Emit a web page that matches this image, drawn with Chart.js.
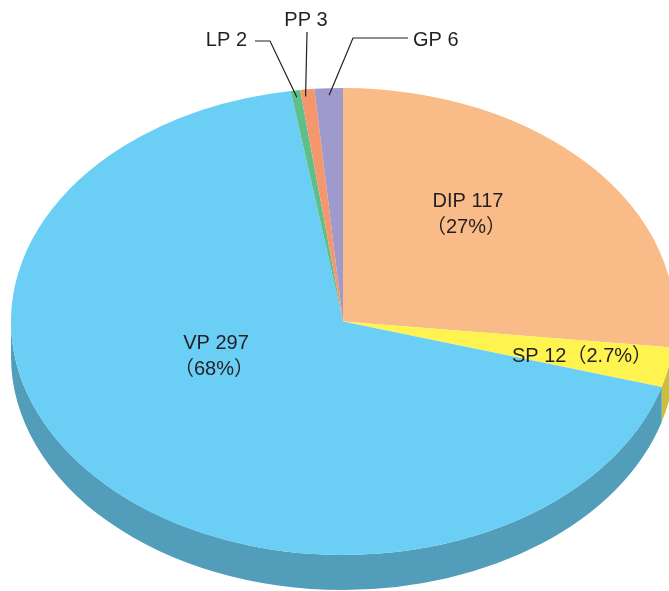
<!DOCTYPE html>
<html>
<head>
<meta charset="utf-8">
<script src="https://cdn.jsdelivr.net/npm/chart.js@4.4.1/dist/chart.umd.min.js"></script>
<style>
  html, body { margin: 0; padding: 0; background: #fff; overflow: hidden; }
  #pie { display: block; }
</style>
</head>
<body>
<canvas id="pie" width="669" height="591"></canvas>
<script>
// data, clockwise from 12 o'clock
const categories = ['DIP', 'SP', 'VP', 'LP', 'PP', 'GP'];
const counts = [117, 12, 297, 2, 3, 6];
const percentLabels = ['27%', '2.7%', '68%', '', '', ''];

const topColors = ['#F9BC88', '#FFF44F', '#6ACEF5', '#5FBF8A', '#F6966C', '#9E9BCC'];
const sideColors = ['#C99870', '#C9BF3C', '#519DBA', '#4C996E', '#C47756', '#7E7BA3'];

// ellipse geometry of the tilted pie (pixels)
const CX = 343, CY = 321.5, RX = 332, RY = 233.5, DEPTH = 35;
const TEXT = '#231F20';
const FONT = '20px "Liberation Sans", "Noto Sans CJK JP", Arial, sans-serif';

// annotation layout
const labelLayout = [
  { type: 'inside', x: 468, y: 207 },                       // DIP
  { type: 'inline', x: 512, y: 362 },                       // SP
  { type: 'inside', x: 216, y: 349 },                       // VP
  { type: 'leader', x: 247, y: 46, align: 'right', frac: 0.5, path: [[255, 41], [270, 41]] },  // LP
  { type: 'leader', x: 306, y: 26, align: 'center', frac: 0.3, path: [[307, 32]] },           // PP
  { type: 'leader', x: 413, y: 46, align: 'left', frac: 0.5, path: [[408, 38], [353, 38]] }    // GP
];

function toScreen(chart, angle, rf) {
  const r = chart.getDatasetMeta(0).data[0].outerRadius;
  return [CX + RX * rf * Math.cos(angle), CY + RY * rf * Math.sin(angle)];
}

const pie3d = {
  id: 'pie3d',
  beforeDatasetsDraw(chart) {
    const meta = chart.getDatasetMeta(0);
    const first = meta.data[0];
    const r = first.outerRadius;
    const ctx = chart.ctx;
    ctx.save();
    ctx.translate(CX, CY);
    ctx.scale(RX / r, RY / r);
    ctx.translate(-first.x, -first.y);

    // side wall, only the front half (0..PI) shows
    const d = DEPTH * r / RY;
    meta.data.forEach((arc, i) => {
      const lo = Math.max(arc.startAngle, 0);
      const hi = Math.min(arc.endAngle, Math.PI);
      if (hi <= lo) return;
      ctx.beginPath();
      ctx.arc(arc.x, arc.y, r, lo, hi);
      ctx.arc(arc.x, arc.y + d, r, hi, lo, true);
      ctx.closePath();
      ctx.fillStyle = sideColors[i];
      ctx.fill();
    });
  },
  afterDatasetsDraw(chart) {
    chart.ctx.restore();
  },
  afterDraw(chart) {
    const ctx = chart.ctx;
    const meta = chart.getDatasetMeta(0);
    ctx.save();
    ctx.font = FONT;
    ctx.fillStyle = TEXT;
    ctx.strokeStyle = TEXT;
    ctx.lineWidth = 1.2;
    ctx.textBaseline = 'alphabetic';

    labelLayout.forEach((lab, i) => {
      const name = categories[i] + ' ' + counts[i];
      if (lab.type === 'inside') {
        ctx.textAlign = 'center';
        ctx.fillText(name, lab.x, lab.y);
        ctx.fillText('（' + percentLabels[i] + '）', lab.x - 2, lab.y + 26);
      } else if (lab.type === 'inline') {
        ctx.textAlign = 'left';
        ctx.fillText(name + '（' + percentLabels[i] + '）', lab.x, lab.y);
      } else {
        const arc = meta.data[i];
        const a = arc.startAngle + (arc.endAngle - arc.startAngle) * lab.frac;
        const end = toScreen(chart, a, 0.97);
        ctx.beginPath();
        ctx.moveTo(lab.path[0][0], lab.path[0][1]);
        lab.path.slice(1).forEach(p => ctx.lineTo(p[0], p[1]));
        if (lab.path.length === 1) {
          ctx.lineTo(end[0], end[1]);
        } else {
          ctx.lineTo(end[0], end[1]);
        }
        ctx.stroke();
        ctx.textAlign = lab.align;
        ctx.fillText(name, lab.x, lab.y);
      }
    });
    ctx.restore();
  }
};

new Chart(document.getElementById('pie'), {
  type: 'pie',
  data: {
    labels: categories,
    datasets: [{
      data: counts,
      backgroundColor: topColors,
      borderWidth: 0,
      clip: false
    }]
  },
  options: {
    responsive: false,
    animation: false,
    events: [],
    plugins: {
      legend: { display: false },
      tooltip: { enabled: false }
    }
  },
  plugins: [pie3d]
});
</script>
</body>
</html>
